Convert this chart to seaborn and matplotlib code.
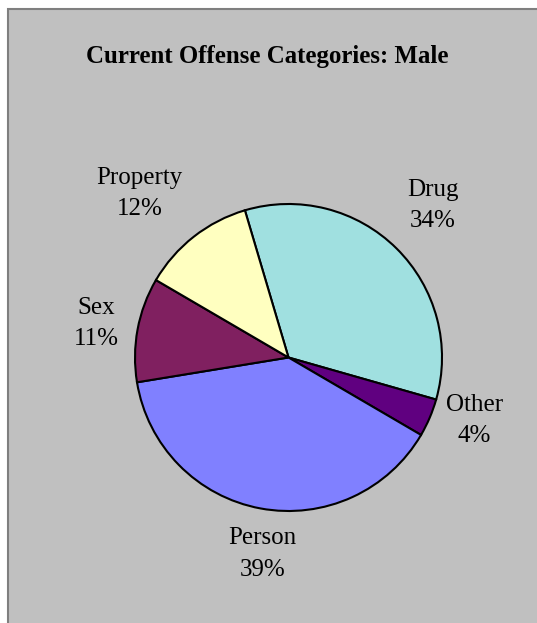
import matplotlib
matplotlib.use("Agg")
import matplotlib.pyplot as plt
from matplotlib.patches import Rectangle
import seaborn as sns

# ---- data ----
categories = ["Drug", "Other", "Person", "Sex", "Property"]
shares = [34, 4, 39, 11, 12]
slice_colors = ["#a0e0e0", "#600080", "#8080ff", "#802060", "#ffffc0"]
# label block centres, in pie-radius units (pie centre = 0, 0)
label_pos = [(0.94, 0.99), (1.21, -0.41), (-0.17, -1.28), (-1.25, 0.22), (-0.97, 1.07)]

sns.set_theme(style="white")
plt.rcParams["font.family"] = ["Liberation Serif", "DejaVu Serif"]
plt.rcParams["text.color"] = "black"

W, H = 537, 623
fig = plt.figure(figsize=(W / 100, H / 100), dpi=100, facecolor="white")

# gray chart area with border on left/top (right/bottom cropped)
fig.patches.append(Rectangle((8 / W, -0.05), 1.2, 1 - 9 / H + 0.05,
                             transform=fig.transFigure, facecolor="#c0c0c0",
                             edgecolor="#7f7f7f", linewidth=1.5, zorder=-10))

# axes mapped so pie centre sits at (288.5, 357.5) px, radius 153.5 px
cx, cy, r = 288.5, 357.5, 153.5
ax = fig.add_axes([0, 0, 1, 1])
ax.set_zorder(5)
ax.set_facecolor("none")
ax.pie(shares, colors=sns.color_palette(slice_colors), startangle=106.5,
       counterclock=False, radius=1.0,
       wedgeprops=dict(edgecolor="black", linewidth=1.5))
ax.set_xlim(-cx / r, (W - cx) / r)
ax.set_ylim(-(H - cy) / r, cy / r)
ax.set_aspect("auto")
ax.axis("off")

for name, val, (lx, ly) in zip(categories, shares, label_pos):
    ax.text(lx, ly, f"{name}\n{val}%", ha="center", va="center",
            fontsize=18, linespacing=1.55, color="black")

fig.text(267 / W, 1 - 56 / H, "Current Offense Categories: Male",
         ha="center", va="center", fontsize=17.9, fontweight="bold", color="black")

fig.savefig("out.png", dpi=100, facecolor="white")
